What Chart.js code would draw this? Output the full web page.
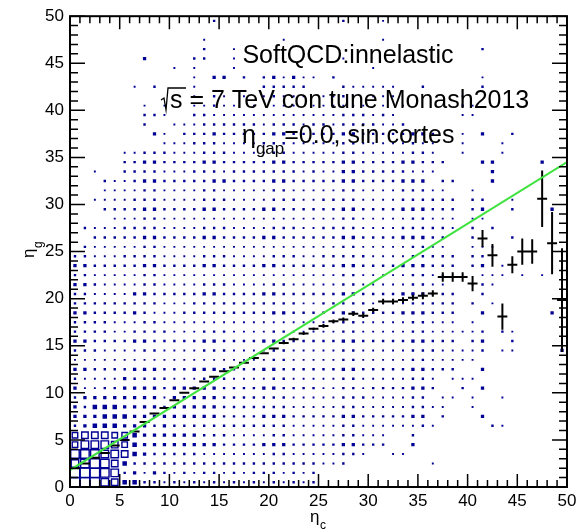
<!DOCTYPE html>
<html>
<head>
<meta charset="utf-8">
<script src="https://cdn.jsdelivr.net/npm/chart.js@4.4.1/dist/chart.umd.min.js"></script>
<style>
  html, body { margin: 0; padding: 0; background: #fff; }
</style>
</head>
<body>
<canvas id="c" width="583" height="531"></canvas>
<script>
// 2D histogram, eta_c bins 0..49 left to right (groups of ten split by '|'),
// eta_g bins from 49 (first row) down to 0. digit = box size level, '.' = empty bin
var boxRows = [
  '..........|....2.....|.......2..|.1........|..........',
  '..........|..........|..........|..........|..........',
  '..........|...1......|.1........|.1........|..........',
  '..........|...2..1...|..........|..........|.2........',
  '.......3..|..22..1...|.......1..|..........|..........',
  '..........|1.1...1...|..........|1.........|..........',
  '..........|..1.33.2.2|31311.2...|..........|.1........',
  '......1.2.|..1......2|2222...211|111..2....|.2........',
  '..........|..1.21.1.1|2111.1121.|111......1|..........',
  '.......1.1|..11211.1.|111.111111|.1.1.....2|1.........',
  '.......221|..22111111|1111111222|121......1|1.........',
  '.......2..|1112222221|2221221222|2112......|..........',
  '........31|.222322222|3322222332|2222332..1|.3..2.....',
  '.........1|1122211112|2211111221|1111211..1|...1......',
  '.....11222|1112221111|2211111221|1111221..1|...1......',
  '.....22332|2223322222|3322222332|22233222..|.33....3..',
  '..1..22221|1122212222|2221211332|2222111...|..3.......',
  '...2112332|2222332222|3322222332|222333.22.|..3.......',
  '...1111221|1112211111|2211111221|11122211..|1.........',
  '..11112221|1112221111|2221122221|111222222.|22..1.....',
  '...2222332|2223322223|3222222332|222333222.|23..2...3.',
  '....111221|1111111111|1111111221|111122111.|11........',
  '.211122221|1112221111|2221122221|111222221.|2.2.......',
  '..22222332|2223322223|3222222332|22233322..|2...2.....',
  '.211111221|1111111111|1111111221|11112211..|111.......',
  '2211122221|1112221111|2221122222|111122222.|22........',
  '3322222332|2223322223|3222222332|222333222.|23.1......',
  '2211111221|1111111111|1111111221|11112211..|.111.1.1..',
  '3321111221|1112221111|2211111221|11112211..|121.......',
  '2211113322|2223322223|3222222332|222333222.|.2........',
  '2222222221|1122222222|2221122222|111122222.|2.1.......',
  '3322223211|1222222222|3322222332|222333222.|.3......3.',
  '2222111221|1111111111|1111111221|111122111.|1.........',
  '2222112222|1112221111|2211111221|1111221111|12.21.....',
  '3322223322|2223322223|3222222332|222233222.|23..2.....',
  '2221111221|1112221111|2211111221|1111222111|12.11....3',
  '1111111111|1111111111|2211111221|1111221111|1.........',
  '3322223332|2233322223|3222222332|222233222.|.3........',
  '2111132222|1112221111|2211111221|1111221.11|1.........',
  '3112233332|3333322223|3222211221|2222332..2|.3........',
  '2333333331|3333322222|2211111222|111122.11.|1..1......',
  '3244433332|3333322222|2211111221|11112211..|1.........',
  '3334443333|3333322223|3322222332|222233.2..|.3........',
  '2344433323|2222222222|2211111221|1111121...|..21......',
  '5666554333|3332221111|2211111221|11..2.....|..........',
  '5777654333|3333322223|3322222332|22..3.....|..........',
  '8887764322|2221111111|2211111221|..11......|..........',
  '7898642222|2222222222|22222112..|......1...|..........',
  '9998723132|1212212122|21212.....|..........|..........',
  '9997644221|2121212121|21212.....|..........|..........'
];
var profMean = [2.0, 2.5, 3.1, 3.6, 4.4, 5.0, 5.9, 6.9, 7.8, 8.4,
                9.2, 10.0, 10.5, 11.2, 11.7, 12.3, 12.7, 13.2, 13.7, 14.2,
                14.7, 15.3, 15.7, 16.3, 16.8, 17.1, 17.6, 17.8, 18.4, 18.2,
                18.8, 19.7, 19.7, 19.85, 20.1, 20.3, 20.55, 22.3, 22.3, 22.3,
                21.6, 26.4, 24.6, 18.1, 23.6, 25.0, 25.0, 30.6, 25.9, 19.85];
var profErr = [0.05, 0.05, 0.05, 0.05, 0.05, 0.05, 0.05, 0.05, 0.05, 0.05,
               0.05, 0.05, 0.05, 0.05, 0.05, 0.1, 0.1, 0.1, 0.1, 0.1,
               0.1, 0.15, 0.15, 0.15, 0.15, 0.2, 0.2, 0.2, 0.25, 0.25,
               0.25, 0.3, 0.3, 0.3, 0.3, 0.35, 0.35, 0.5, 0.5, 0.5,
               0.8, 0.9, 1.2, 1.4, 0.9, 1.4, 1.3, 3.0, 3.3, 5.5];
var fitEnds = [1.8, 34.5];   // linear fit at eta_c = 0 and eta_c = 50
var tickValues = [0, 5, 10, 15, 20, 25, 30, 35, 40, 45, 50];

var NAVY = '#000094';
var FONT = "'Liberation Sans', Arial, Helvetica, sans-serif";
var levelSide = [0, 1.9, 2.4, 3.3, 4.5, 5.5, 6.5, 7.5, 8.5, 9.5];

var cells = [];
boxRows.forEach(function (row, r) {
  var s = row.replace(/\|/g, '');
  var j = boxRows.length - 1 - r;
  for (var i = 0; i < s.length; i++) {
    var c = s.charAt(i);
    if (c >= '1' && c <= '9') cells.push({ x: i + 0.5, y: j + 0.5, v: +c });
  }
});

// profile crosses as broken line pieces
var profPts = [];
profMean.forEach(function (m, i) {
  var e = profErr[i];
  profPts.push({ x: i, y: m }, { x: i + 1, y: m }, { x: i + 0.5, y: null });
  profPts.push({ x: i + 0.5, y: m - e }, { x: i + 0.5, y: m + e }, { x: i + 0.5, y: null });
});

function tickFont() { return { family: FONT, size: 17 }; }

var rootFrame = {
  id: 'rootFrame',
  afterDatasetsDraw: function (chart) {
    var ctx = chart.ctx, a = chart.chartArea;
    var xs = chart.scales.x, ys = chart.scales.y;
    ctx.save();
    ctx.strokeStyle = '#000';
    ctx.lineWidth = 1.5;
    ctx.beginPath();
    for (var v = 0; v <= 50; v++) {
      var major = v % 5 === 0;
      var px = xs.getPixelForValue(v);
      var lx = major ? 13 : 7;
      ctx.moveTo(px, a.bottom); ctx.lineTo(px, a.bottom - lx);
      ctx.moveTo(px, a.top); ctx.lineTo(px, a.top + lx);
      var py = ys.getPixelForValue(v);
      var ly = major ? 15 : 8;
      ctx.moveTo(a.left, py); ctx.lineTo(a.left + ly, py);
      ctx.moveTo(a.right, py); ctx.lineTo(a.right - ly, py);
    }
    ctx.stroke();
    ctx.lineWidth = 2;
    ctx.strokeRect(a.left, a.top, a.right - a.left, a.bottom - a.top);

    // labels inside the frame
    ctx.fillStyle = '#000';
    ctx.textBaseline = 'alphabetic';
    ctx.font = '25px ' + FONT;
    ctx.textAlign = 'center';
    ctx.fillText('SoftQCD:innelastic', 348, 63);

    ctx.textAlign = 'left';
    ctx.fillText('s = 7 TeV con tune Monash2013', 170, 108);
    ctx.lineWidth = 1.3;
    ctx.beginPath();
    ctx.moveTo(161, 100); ctx.lineTo(164, 98); ctx.lineTo(166, 110);
    ctx.lineTo(168, 88); ctx.lineTo(186, 88);
    ctx.stroke();

    ctx.fillText('\u03b7', 242, 143);
    var wEta = ctx.measureText('\u03b7').width;
    ctx.font = '17px ' + FONT;
    ctx.fillText('gap', 242 + wEta, 154);
    var wGap = ctx.measureText('gap').width;
    ctx.font = '25px ' + FONT;
    ctx.fillText('=0.0, sin cortes', 242 + wEta + wGap, 143);

    // axis titles
    ctx.font = '17px ' + FONT;
    ctx.fillText('\u03b7', 310, 522);
    ctx.font = '12px ' + FONT;
    ctx.fillText('c', 320, 529);

    ctx.translate(34, 258);
    ctx.rotate(-Math.PI / 2);
    ctx.font = '17px ' + FONT;
    ctx.fillText('\u03b7', 0, 0);
    ctx.font = '12px ' + FONT;
    ctx.fillText('g', 10, 8);
    ctx.restore();
  }
};

new Chart(document.getElementById('c'), {
  type: 'scatter',
  data: {
    datasets: [
      {
        data: [{ x: 0, y: fitEnds[0] }, { x: 50, y: fitEnds[1] }],
        showLine: true,
        borderColor: '#3fe23f',
        borderWidth: 2,
        pointRadius: 0,
        order: 0
      },
      {
        data: profPts,
        showLine: true,
        spanGaps: false,
        borderColor: '#000',
        borderWidth: 2,
        borderCapStyle: 'butt',
        pointRadius: 0,
        order: 1
      },
      {
        data: cells,
        pointStyle: 'rect',
        pointRadius: function (c) {
          var v = c.raw ? c.raw.v : 0;
          return levelSide[v] * Math.SQRT1_2;
        },
        backgroundColor: function (c) {
          return c.raw && c.raw.v >= 5 ? 'rgba(0,0,0,0)' : NAVY;
        },
        borderColor: NAVY,
        borderWidth: function (c) {
          return c.raw && c.raw.v >= 5 ? 1.4 : 0;
        },
        order: 2
      }
    ]
  },
  options: {
    responsive: false,
    animation: false,
    events: [],
    layout: { padding: { top: 16, right: 16, left: 0, bottom: 0 } },
    plugins: { legend: { display: false }, tooltip: { enabled: false } },
    scales: {
      x: {
        type: 'linear', min: 0, max: 50,
        grid: { display: false, drawTicks: false },
        border: { display: false },
        afterFit: function (s) { s.height = 44; },
        afterBuildTicks: function (s) { s.ticks = tickValues.map(function (v) { return { value: v }; }); },
        ticks: { font: tickFont(), color: '#000', padding: 4, maxRotation: 0, autoSkip: false }
      },
      y: {
        type: 'linear', min: 0, max: 50,
        grid: { display: false, drawTicks: false },
        border: { display: false },
        afterFit: function (s) { s.width = 70; },
        afterBuildTicks: function (s) { s.ticks = tickValues.map(function (v) { return { value: v }; }); },
        ticks: { font: tickFont(), color: '#000', padding: 6, autoSkip: false }
      }
    }
  },
  plugins: [rootFrame]
});
</script>
</body>
</html>
